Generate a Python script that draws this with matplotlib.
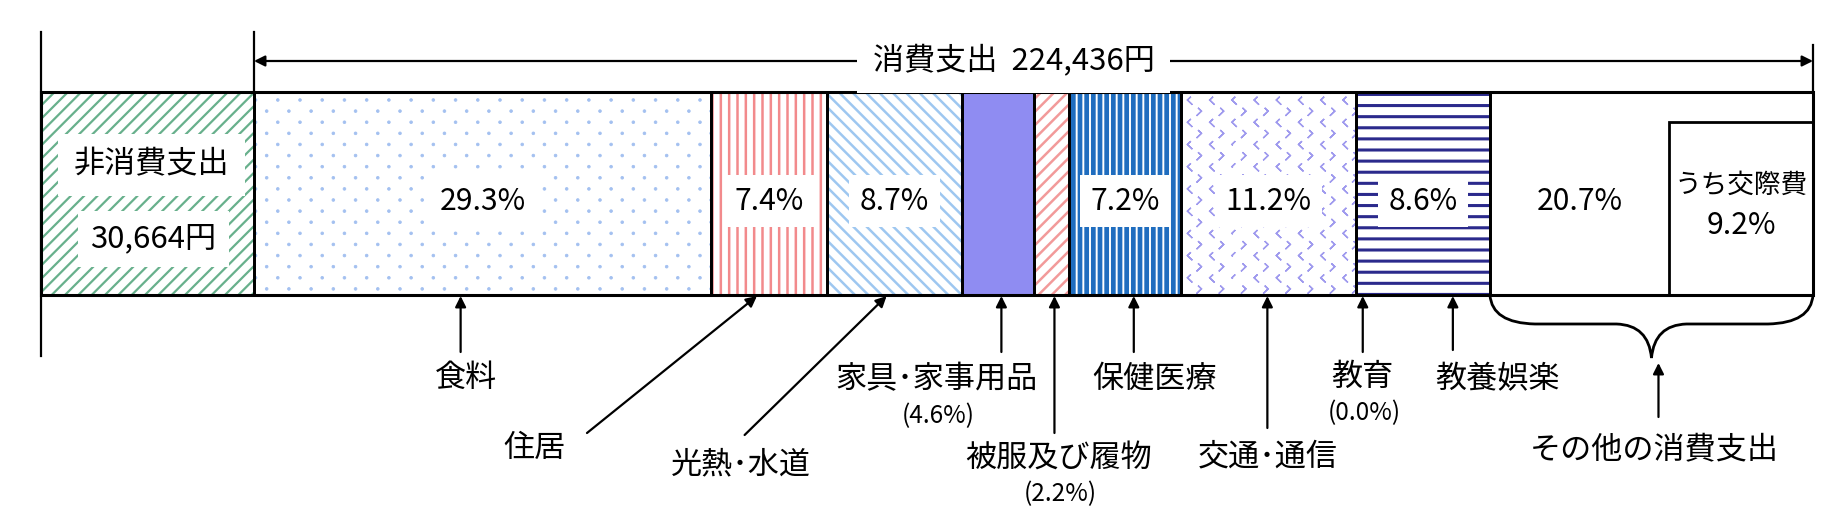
import warnings
import numpy as np
import matplotlib
matplotlib.use("Agg")
import matplotlib.pyplot as plt
import matplotlib.hatch as mhatch
from matplotlib.path import Path
from matplotlib.patches import PathPatch

warnings.filterwarnings("ignore")
plt.rcParams['font.family'] = ['Noto Sans CJK JP', 'DejaVu Sans']

# data (one month household spending)
consumption_total = 224436
non_consumption = 30664
categories = ['食料', '住居', '光熱･水道', '家具･家事用品', '被服及び履物',
              '保健医療', '交通･通信', '教育', '教養娯楽', 'その他の消費支出']
shares = [29.3, 7.4, 8.7, 4.6, 2.2, 7.2, 11.2, 0.0, 8.6, 20.7]
kosai_share = 9.2
inside_labels = ['29.3%', '7.4%', '8.7%', '', '', '7.2%', '11.2%', '', '8.6%', '20.7%']
sub_labels = ['', '', '', '(4.6%)', '(2.2%)', '', '', '(0.0%)', '', '']


# staggered small shapes: rows every 1/n, columns every 2/n, odd rows shifted
class StaggeredShapes(mhatch.HatchPatternBase):
    char = None

    def __init__(self, hatch, density):
        self.num_rows = hatch.count(self.char) * density
        n = self.num_rows
        if n == 0:
            self.num_vertices = 0
            return
        self.ncols = n // 2
        self.num_vertices = (n + 1) * (self.ncols + 1) * len(self.shape_verts(0))

    def set_vertices_and_codes(self, vertices, codes):
        n, m = self.num_rows, self.ncols
        cur = 0
        for row in range(n + 1):
            sv = self.shape_verts(row) / n
            sc = self.shape_codes(row)
            k = len(sv)
            shift = 0.5 / m if row % 2 else 0.0
            for col in range(m + 1):
                vertices[cur:cur + k] = sv + (col / m + shift, row / n)
                codes[cur:cur + k] = sc
                cur += k


class SparseDots(StaggeredShapes):
    char = ':'
    circle = Path.unit_circle()

    def shape_verts(self, row):
        return self.circle.vertices * 0.12

    def shape_codes(self, row):
        return self.circle.codes


class Chevrons(StaggeredShapes):
    char = 'v'
    arrow = np.array([[-0.13, 0.25], [0.13, 0.0], [-0.13, -0.25], [0.13, 0.0], [-0.13, 0.25]])

    def shape_verts(self, row):
        return self.arrow * (1 if row % 2 == 0 else [-1, 1])

    def shape_codes(self, row):
        return np.array([Path.MOVETO] + [Path.LINETO] * 4, dtype=Path.code_type)


mhatch._hatch_types.extend([SparseDots, Chevrons])

# fill style of each block: (face, hatch colour, hatch, hatch linewidth)
styles = [
    ('white', '#a3c0f0', ':::', 0.3),
    ('white', '#f28a8c', '||||', 0.9),
    ('white', '#9ec7f0', '\\\\\\\\\\', 0.9),
    ('#8f8cf2', '#8f8cf2', '', 1.0),
    ('white', '#f29a9a', '/////', 0.9),
    ('#1f6dbf', 'white', '|||||', 0.7),
    ('white', '#9f9aee', 'vvv', 0.5),
    ('white', '#2b2a8c', '---', 1.1),
    ('white', '#2b2a8c', '---', 1.1),
    ('white', 'white', '', 1.0),
]
non_style = ('white', '#68b08c', '/////', 0.8)

# label layout in pixels relative to block centre: head dx, tail dx, tail y, label dx, label y
layout = [
    (-22, -22, 352, -17, 378),
    (-12, -182, 433, -234, 448),
    (-8, -150, 435, -154, 465),
    (3, 3, 352, -62, 380),
    (3, 3, 433, 7, 458),
    (9, 9, 352, 30, 380),
    (-1, -1, 428, -1, 457),
    (7, 7, 352, 7, 377),
    (30, 30, 350, 75, 380),
]

fig = plt.figure(figsize=(9.24, 2.63), dpi=200)
ax = fig.add_axes([0, 0, 1, 1])
total = non_consumption + consumption_total
scale = total / (1813 - 41)  # yen per pixel
ax.set_xlim(-41 * scale, (1848 - 41) * scale)
ax.set_ylim(526, 0)
ax.axis('off')

bar_top, bar_bottom = 92, 295
bar_h = bar_bottom - bar_top


def px(p):
    return p * scale


def hatched(left, width, style, bottom=bar_top, height=bar_h):
    face, hcol, hatch, hlw = style
    with plt.rc_context({'hatch.linewidth': hlw}):
        b = ax.bar(left, height, width=width, bottom=bottom, align='edge',
                   color=face, edgecolor=hcol, hatch=hatch, linewidth=0, zorder=1)
    for p in b:
        if hasattr(p, 'set_hatch_linewidth'):
            p.set_hatch_linewidth(hlw)
    ax.bar(left, height, width=width, bottom=bottom, align='edge',
           fill=False, edgecolor='black', linewidth=1.0, zorder=2)


widths = np.array(shares) / sum(shares) * consumption_total
lefts = non_consumption + np.concatenate([[0], np.cumsum(widths)[:-1]])
centers = lefts + widths / 2

# non-consumption block
hatched(0, non_consumption, non_style)
ax.text(non_consumption / 2 + px(4), 165, '非消費支出', ha='center', va='center', fontsize=11.2,
        zorder=4, bbox=dict(boxstyle='square,pad=0.5', fc='white', ec='none'))
ax.text(non_consumption / 2 + px(6), 239, '30,664円', ha='center', va='center', fontsize=11.2,
        zorder=4, bbox=dict(boxstyle='square,pad=0.4', fc='white', ec='none'))

for i in range(len(categories)):
    if widths[i] > 0:
        hatched(lefts[i], widths[i], styles[i])

# inner box for social expenses
end = total
kosai_w = kosai_share / sum(shares) * consumption_total
ax.bar(end - kosai_w, bar_bottom - 122, width=kosai_w, bottom=122, align='edge',
       color='white', edgecolor='black', linewidth=1.0, zorder=3)
ax.text(end - kosai_w / 2, 185, 'うち交際費', ha='center', va='center', fontsize=9.6, zorder=4)
ax.text(end - kosai_w / 2, 225, f'{kosai_share}%', ha='center', va='center', fontsize=10.8, zorder=4)

# outer frame
ax.bar(0, bar_h, width=total, bottom=bar_top, align='edge', fill=False,
       edgecolor='black', linewidth=1.1, zorder=3)

# percentages inside blocks
for i, lab in enumerate(inside_labels):
    if not lab:
        continue
    x = centers[i]
    if i == len(categories) - 1:
        x = (lefts[i] + end - kosai_w) / 2
    ax.text(x, 201, lab, ha='center', va='center', fontsize=10.8, zorder=4,
            bbox=dict(boxstyle='square,pad=0.35', fc='white', ec='none'))

# arrows and category names below
arrow_kw = dict(arrowstyle='-|>', color='black', lw=0.8, mutation_scale=8, shrinkA=0, shrinkB=0)
for i, (hdx, tdx, ty, ldx, ly) in enumerate(layout):
    c = centers[i]
    ax.annotate('', xy=(c + px(hdx), bar_bottom + 1), xytext=(c + px(tdx), ty),
                arrowprops=arrow_kw, zorder=4)
    ax.text(c + px(ldx), ly, categories[i], ha='center', va='center', fontsize=11.2)
    if sub_labels[i]:
        ax.text(c + px(ldx + 2), ly + 36, sub_labels[i], ha='center', va='center', fontsize=8.8)

# brace under the "other" block
xl, xr = lefts[-1], end
xc = (xl + xr) / 2
verts = [(xl, bar_bottom), (xl + px(2), 323), (xl + px(45), 324), (xc - px(35), 324),
         (xc - px(3), 325), (xc, 358), (xc + px(3), 325), (xc + px(35), 324),
         (xr - px(45), 324), (xr - px(2), 323), (xr, bar_bottom)]
codes = [Path.MOVETO, Path.CURVE3, Path.CURVE3, Path.LINETO, Path.CURVE3, Path.CURVE3,
         Path.CURVE3, Path.CURVE3, Path.LINETO, Path.CURVE3, Path.CURVE3]
ax.add_patch(PathPatch(Path(verts, codes), fill=False, lw=1.0, ec='black', zorder=3))
ax.annotate('', xy=(xc + px(7), 363), xytext=(xc + px(7), 417), arrowprops=arrow_kw)
ax.text(xc + px(3), 450, categories[-1], ha='center', va='center', fontsize=11.2)

# guide lines and the consumption span arrow
ax.plot([0, 0], [32, 356], color='black', lw=0.8, zorder=3)
ax.plot([non_consumption, non_consumption], [32, bar_top], color='black', lw=0.8)
ax.plot([end, end], [45, bar_top], color='black', lw=0.8)
ax.annotate('', xy=(end, 61), xytext=(non_consumption, 61),
            arrowprops=dict(arrowstyle='<|-|>', color='black', lw=0.8, mutation_scale=8,
                            shrinkA=0, shrinkB=0))
ax.text((non_consumption + end) / 2 - px(20), 61, f'消費支出  {consumption_total:,}円',
        ha='center', va='center', fontsize=11.2, zorder=4,
        bbox=dict(boxstyle='square,pad=0.5', fc='white', ec='none'))

fig.savefig('out.png', dpi=200)
